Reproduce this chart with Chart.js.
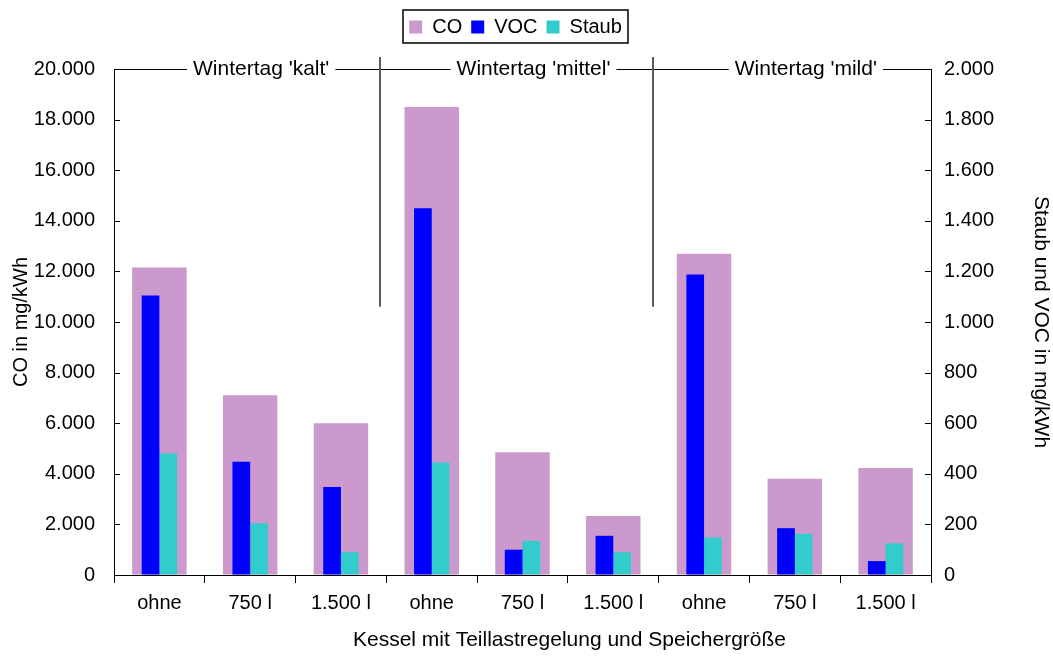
<!DOCTYPE html>
<html>
<head>
<meta charset="utf-8">
<script src="https://cdn.jsdelivr.net/npm/chart.js@4"></script>
<style>
  html, body { margin: 0; padding: 0; background: #fff; }
  #wrap { width: 1053px; height: 656px; }
</style>
</head>
<body>
<div id="wrap"><canvas id="chart" width="1053" height="656"></canvas></div>
<script>
// Storage sizes per test day
const categories = ['ohne', '750 l', '1.500 l', 'ohne', '750 l', '1.500 l', 'ohne', '750 l', '1.500 l'];
// Test-day groups (3 categories each)
const groupLabels = ["Wintertag 'kalt'", "Wintertag 'mittel'", "Wintertag 'mild'"];
// Emissions in mg/kWh
const coValues    = [12150, 7100, 6000, 18500, 4850, 2330, 12700, 3800, 4230];
const vocValues   = [1105, 448, 348, 1450, 100, 155, 1188, 185, 55];
const staubValues = [480, 205, 90, 445, 135, 90, 148, 163, 125];
// Axis ranges and steps
const coAxis = { min: 0, max: 20000, step: 2000 };
const dustAxis = { min: 0, max: 2000, step: 200 };
const xTitle = 'Kessel mit Teillastregelung und Speichergröße';

const FONT = "'Liberation Sans', Arial, sans-serif";
const fmt = v => String(v).replace(/\B(?=(\d{3})+(?!\d))/g, '.');
const LEGEND_SHIFT = -11;

// Frame pieces: inner ticks on the value axes, top rule with group captions,
// group separators, the category-axis title and a box around the legend.
const framePlugin = {
  id: 'frame',
  afterLayout(chart) {
    // nudge the legend a little to the left of the canvas centre
    const lg = chart.legend;
    if (lg) { lg.left += LEGEND_SHIFT; lg.right += LEGEND_SHIFT; }
  },
  afterDraw(chart) {
    const ctx = chart.ctx;
    const area = chart.chartArea;
    const yL = chart.scales.y, yR = chart.scales.y2, x = chart.scales.x;
    ctx.save();
    ctx.strokeStyle = '#000';
    ctx.lineWidth = 1;
    // inner tick marks
    yL.ticks.forEach(t => {
      const py = Math.round(yL.getPixelForValue(t.value)) + 0.5;
      ctx.beginPath(); ctx.moveTo(area.left, py); ctx.lineTo(area.left + 6, py); ctx.stroke();
    });
    yR.ticks.forEach(t => {
      const py = Math.round(yR.getPixelForValue(t.value)) + 0.5;
      ctx.beginPath(); ctx.moveTo(area.right - 6, py); ctx.lineTo(area.right, py); ctx.stroke();
    });
    // top rule
    const topY = Math.round(area.top) + 0.5;
    ctx.beginPath(); ctx.moveTo(area.left, topY); ctx.lineTo(area.right, topY); ctx.stroke();
    // group separators
    ctx.strokeStyle = '#5a5a5a';
    ctx.lineWidth = 2;
    [2.43, 5.44].forEach(v => {
      const px = Math.round(x.getPixelForValue(v));
      ctx.beginPath();
      ctx.moveTo(px, area.top - 12);
      ctx.lineTo(px, yL.getPixelForValue(10600));
      ctx.stroke();
    });
    // group captions on the top rule
    ctx.font = '21px ' + FONT;
    ctx.textAlign = 'center';
    ctx.textBaseline = 'middle';
    groupLabels.forEach((label, i) => {
      const cx = x.getPixelForValue(i * 3 + 1) + 11;
      const w = ctx.measureText(label).width;
      ctx.fillStyle = '#fff';
      ctx.fillRect(cx - w / 2 - 6, area.top - 12, w + 12, 24);
      ctx.fillStyle = '#000';
      ctx.fillText(label, cx, area.top);
    });
    // category-axis title, set slightly right of the axis centre
    ctx.fillText(xTitle, (area.left + area.right) / 2 + 47, x.bottom - 16);
    // legend box
    const boxes = chart.legend.legendHitBoxes;
    if (boxes && boxes.length) {
      let l = Infinity, r = -Infinity, t = Infinity, b = -Infinity;
      boxes.forEach(h => {
        l = Math.min(l, h.left); r = Math.max(r, h.left + h.width);
        t = Math.min(t, h.top); b = Math.max(b, h.top + h.height);
      });
      ctx.strokeStyle = '#000';
      ctx.lineWidth = 1.5;
      ctx.strokeRect(Math.round(l) - 6, Math.round(t) - 7, Math.round(r - l) + 12, Math.round(b - t) + 13);
    }
    ctx.restore();
  }
};

new Chart(document.getElementById('chart'), {
  type: 'bar',
  data: {
    labels: categories,
    datasets: [
      {
        label: 'CO', data: coValues, yAxisID: 'y',
        backgroundColor: '#CC99CC', grouped: false, order: 1,
        categoryPercentage: 1, barPercentage: 0.6
      },
      {
        label: 'VOC', data: vocValues, yAxisID: 'y2',
        backgroundColor: '#0000FF', order: 0,
        categoryPercentage: 0.39, barPercentage: 1
      },
      {
        label: 'Staub', data: staubValues, yAxisID: 'y2',
        backgroundColor: '#33CCCC', order: 0,
        categoryPercentage: 0.39, barPercentage: 1
      }
    ]
  },
  options: {
    responsive: false,
    animation: false,
    devicePixelRatio: 1,
    layout: { padding: { top: 8, left: 0, right: 0, bottom: 0 } },
    plugins: {
      tooltip: { enabled: false },
      legend: {
        position: 'top',
        labels: {
          font: { family: FONT, size: 20 },
          color: '#000',
          boxWidth: 13,
          boxHeight: 13,
          padding: 9,
          sort: (a, b) => a.datasetIndex - b.datasetIndex
        }
      }
    },
    scales: {
      x: {
        offset: true,
        grid: { offset: true, drawOnChartArea: false, drawTicks: true, tickLength: 8, color: '#000' },
        border: { color: '#000', width: 1 },
        ticks: { color: '#000', font: { family: FONT, size: 20 }, padding: 8, maxRotation: 0 },
        title: { display: false },
        afterFit: s => { s.height = 81; }
      },
      // empty band above the plot that holds the group captions
      xTop: {
        type: 'category',
        position: 'top',
        grid: { display: false, drawTicks: false },
        border: { display: false },
        ticks: { display: false },
        afterFit: s => { s.height = 22; }
      },
      y: {
        position: 'left',
        min: coAxis.min, max: coAxis.max,
        grid: { drawOnChartArea: false, drawTicks: false },
        border: { color: '#000', width: 1 },
        ticks: { stepSize: coAxis.step, color: '#000', font: { family: FONT, size: 20 }, padding: 19, callback: v => fmt(v) },
        title: {
          display: true, text: 'CO in mg/kWh',
          color: '#000', font: { family: FONT, size: 20 }, padding: { top: 9, bottom: 0 }
        },
        afterFit: s => { s.width = 114; }
      },
      y2: {
        position: 'right',
        min: dustAxis.min, max: dustAxis.max,
        grid: { drawOnChartArea: false, drawTicks: false },
        border: { color: '#000', width: 1 },
        ticks: { stepSize: dustAxis.step, color: '#000', font: { family: FONT, size: 20 }, padding: 13, callback: v => fmt(v) },
        title: {
          display: true, text: 'Staub und VOC in mg/kWh',
          color: '#000', font: { family: FONT, size: 21 }, padding: { top: 0, bottom: 1 }
        },
        afterFit: s => { s.width = 122; }
      }
    }
  },
  plugins: [framePlugin]
});
</script>
</body>
</html>
